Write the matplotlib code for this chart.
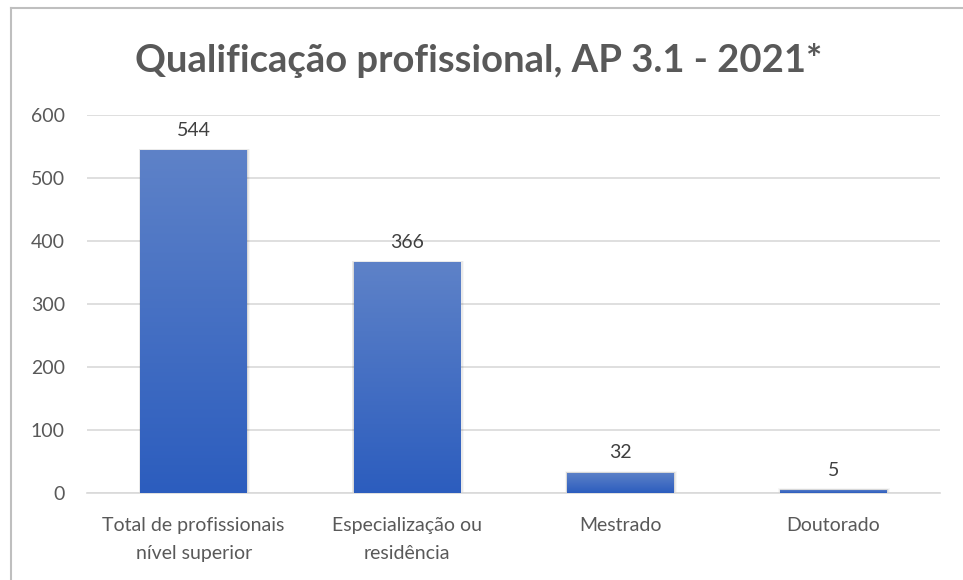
import numpy as np
import matplotlib.pyplot as plt
from matplotlib.colors import LinearSegmentedColormap
from matplotlib.lines import Line2D

categories = ['Total de profissionais\nnível superior', 'Especialização ou\nresidência',
              'Mestrado', 'Doutorado']
values = [544, 366, 32, 5]
yticks = [0, 100, 200, 300, 400, 500, 600]

plt.rcParams['font.family'] = ['Lato', 'DejaVu Sans']
text_color = '#595959'

fig = plt.figure(figsize=(9.63, 5.8), dpi=100)
ax = fig.add_axes([87 / 963, 1 - 493 / 580, 853 / 963, 378 / 580])

x = np.arange(len(categories))
bars = ax.bar(x, values, width=0.5, color='none', zorder=3)

# vertical gradient inside each bar, lighter at top
grad_cmap = LinearSegmentedColormap.from_list('bluegrad', ['#2C5DBE', '#5E82C8'])
grad = np.linspace(0, 1, 256).reshape(-1, 1)
for b, v in zip(bars, values):
    bx, by = b.get_x(), b.get_y()
    w, h = b.get_width(), b.get_height()
    # soft shadow on the sides
    for k, a in enumerate([0.07, 0.05, 0.03]):
        d = 0.005 * (k + 1)
        ax.add_patch(plt.Rectangle((bx - d * 0.5, by), w + d * 1.6, h + d * 150,
                                   color='black', alpha=a, lw=0, zorder=2))
    im = ax.imshow(grad, cmap=grad_cmap, aspect='auto', origin='lower',
                   extent=(bx, bx + w, by, by + h), zorder=3)
    im.set_clip_path(b)
    ax.text(bx + w / 2, h + 18, str(v), ha='center', va='bottom',
            fontsize=14, color='#404040', zorder=4)

ax.set_xlim(-0.5, len(categories) - 0.5)
ax.set_ylim(0, 600)
ax.set_yticks(yticks)
ax.set_xticks(x)
ax.set_xticklabels(categories, fontsize=14, color=text_color, linespacing=1.8)
ax.tick_params(axis='y', labelsize=14, labelcolor=text_color, length=0, pad=16)
ax.tick_params(axis='x', length=0, pad=17)
ax.grid(axis='y', color='#D9D9D9', lw=1.2, zorder=0)
for s in ['top', 'right', 'left']:
    ax.spines[s].set_visible(False)
ax.spines['bottom'].set_color('#D9D9D9')
ax.spines['bottom'].set_linewidth(1.2)

fig.text(0.497, 1 - 61 / 580, 'Qualificação profissional, AP 3.1 - 2021*',
         ha='center', va='center', fontsize=27.5, fontweight='bold', color=text_color)

# chart frame edges
fig.add_artist(Line2D([11 / 963, 11 / 963], [0, 1 - 8 / 580], color='#BFBFBF', lw=1.5))
fig.add_artist(Line2D([11 / 963, 1], [1 - 8 / 580, 1 - 8 / 580], color='#BFBFBF', lw=1.5))

fig.savefig('out.png', dpi=100)
